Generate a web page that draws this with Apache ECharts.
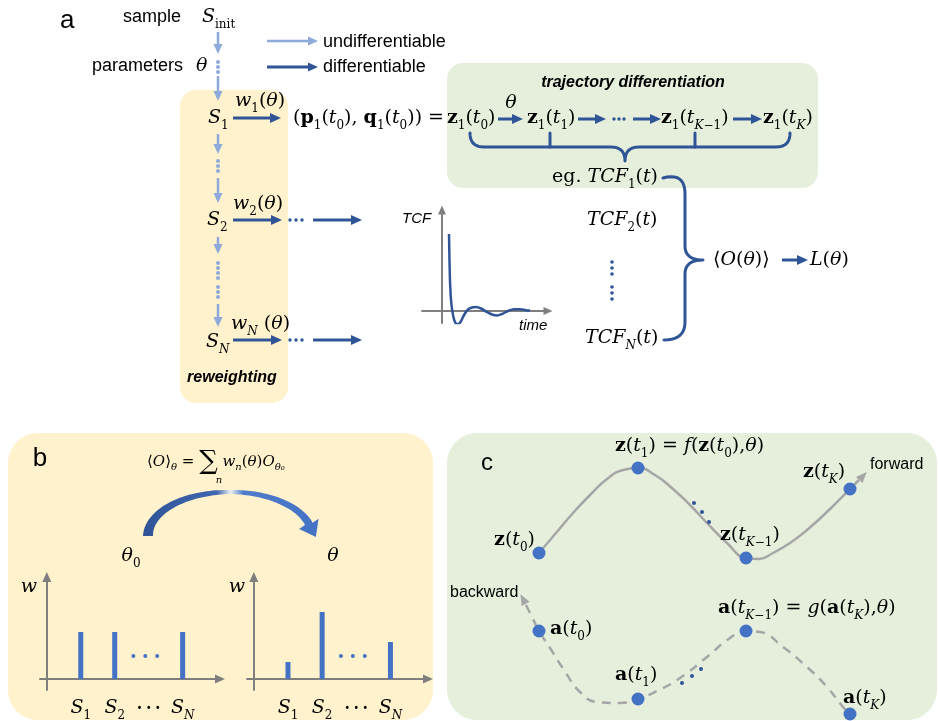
<!DOCTYPE html>
<html><head><meta charset="utf-8">
<script src="https://cdn.jsdelivr.net/npm/echarts@6/dist/echarts.min.js"></script>
<style>html,body{margin:0;padding:0;background:#fff}#c{width:938px;height:721px}</style>
</head><body><div id="c"></div>
<script>
// ---------------- data ----------------
// panel b: reweighting bars (x position of sample, weight)
const sampleLabels = ['S1', 'S2', '···', 'SN'];
const samplePos = [1, 2, 4];
const weightsTheta0 = [47, 47, 47];
const weightsTheta = [17, 67, 37];
const ellipsisX = [2.55, 2.9, 3.25];
const ellipsisY = 23;
// panel a: time correlation function sketch
const tcfTime  = [7, 7.5, 8.2, 9.3, 11, 13, 15.5, 18.5, 22, 26, 30, 34, 39, 45, 50, 55, 60, 66, 72, 78, 84, 88];
const tcfValue = [77, 50, 25, 8, -4, -11, -13.5, -11, -4, 1.5, 3.5, 4, 2.5, -1, -3.5, -4.5, -3, 0, 1.8, 1.8, 0.8, 0.5];
// panel c: forward trajectory z(t) and adjoint a(t)
const zPathX = [92, 109, 126, 143, 160, 176, 191, 208, 226, 243, 260, 280, 299, 312, 326, 343, 360, 382, 403, 412];
const zPathY = [120, 100, 80, 62, 46, 37, 35, 42, 56, 72, 90, 110, 125, 126, 120, 110, 97, 77, 56, 47];
const zStateX = [92, 191, 299, 403];
const zStateY = [120, 35, 125, 56];
const zDotsX = [247, 255, 262];
const zDotsY = [70, 79, 89];
const aPathX = [79, 86, 92, 103, 117, 133, 150, 173, 191, 210, 233, 260, 283, 299, 313, 336, 360, 380, 396, 401];
const aPathY = [172, 186, 198, 215, 237, 259, 269, 270, 266, 258, 245, 224, 205, 198, 199, 214, 234, 254, 274, 279];
const aStateX = [92, 191, 299, 403];
const aStateY = [198, 266, 198, 281];
const aDotsX = [235, 245, 254];
const aDotsY = [250, 243, 236];

// ---------------- styles ----------------
const SANS = '"Liberation Sans", Arial, sans-serif';
const SERIF = '"DejaVu Serif", "Liberation Serif", serif';
const DARK = '#2f5597', LIGHT = '#8eaadb', BLUE = '#4472c4', GRAY = '#7f7f7f', CURVE = '#a6a6a6';

function mkRich(sz, sub) {
  const lh = Math.round(sz * 1.4), slh = Math.round(sub * 1.3);
  return {
    i: {fontFamily: SERIF, fontStyle: 'italic', fontSize: sz, lineHeight: lh, color: '#000'},
    r: {fontFamily: SERIF, fontSize: sz, lineHeight: lh, color: '#000'},
    b: {fontFamily: SERIF, fontWeight: 'bold', fontSize: sz, lineHeight: lh, color: '#000'},
    s: {fontFamily: SERIF, fontStyle: 'italic', fontSize: sub, lineHeight: slh, verticalAlign: 'bottom', color: '#000'},
    sr: {fontFamily: SERIF, fontSize: sub, lineHeight: slh, verticalAlign: 'bottom', color: '#000'},
    big: {fontFamily: SERIF, fontSize: Math.round(sz * 1.7), lineHeight: lh, color: '#000'},
    dt: {fontFamily: SANS, fontSize: 10, fontWeight: 'bold', lineHeight: lh, color: '#000'}
  };
}
const R = mkRich(19, 12);
const RF = mkRich(15, 10);

const G = [];
function T(x, y, text, o) {
  o = o || {};
  G.push({type: 'text', z: 100, style: {x: x, y: y, text: text, rich: o.rich || R,
    align: o.align || 'left', verticalAlign: 'middle', fill: o.fill || '#000',
    font: o.font || ('19px ' + SERIF)}});
}
function arrow(x1, y1, x2, y2, color, lw, hl, hw) {
  lw = lw || 2.5; hl = hl || 10; hw = hw || 9;
  const dx = x2 - x1, dy = y2 - y1, L = Math.hypot(dx, dy), ux = dx / L, uy = dy / L;
  const bx = x2 - ux * hl, by = y2 - uy * hl;
  G.push({type: 'line', z: 90, shape: {x1: x1, y1: y1, x2: bx + ux, y2: by + uy}, style: {stroke: color, lineWidth: lw}});
  G.push({type: 'polygon', z: 90, shape: {points: [[x2, y2], [bx - uy * hw / 2, by + ux * hw / 2], [bx + uy * hw / 2, by - ux * hw / 2]]}, style: {fill: color}});
}
function dot(x, y, r, color) { G.push({type: 'circle', z: 90, shape: {cx: x, cy: y, r: r}, style: {fill: color}}); }
function quad(pts, p0, c, p2) {
  for (let k = 0; k <= 10; k++) { const t = k / 10, m = 1 - t;
    pts.push([m * m * p0[0] + 2 * m * t * c[0] + t * t * p2[0], m * m * p0[1] + 2 * m * t * c[1] + t * t * p2[1]]); }
}
function poly(pts, color, lw) { G.push({type: 'polyline', z: 90, shape: {points: pts}, style: {stroke: color, lineWidth: lw, fill: null, lineJoin: 'round', lineCap: 'round'}}); }

// ---------------- backgrounds ----------------
G.push({type: 'rect', z: 0, shape: {x: 180, y: 90, width: 108, height: 313, r: 16}, style: {fill: '#fff2cc'}});
G.push({type: 'rect', z: 0, shape: {x: 447, y: 63, width: 371, height: 125, r: 16}, style: {fill: '#e5efdc'}});
G.push({type: 'rect', z: 0, shape: {x: 8, y: 433, width: 425, height: 287, r: 30}, style: {fill: '#fff2cc'}});
G.push({type: 'rect', z: 0, shape: {x: 447, y: 433, width: 490, height: 287, r: 30}, style: {fill: '#e5efdc'}});

// ---------------- panel a ----------------
T(60, 21, 'a', {font: '26px ' + SANS});
T(123, 17, 'sample', {font: '18px ' + SANS});
T(202, 17, '{i|S}{sr|init}');
T(92, 66, 'parameters', {font: '18px ' + SANS});
T(196, 66, '{i|θ}');
arrow(267, 41, 318, 41, LIGHT); T(323, 42, 'undifferentiable', {font: '18px ' + SANS});
arrow(267, 67, 318, 67, DARK, 3); T(323, 67, 'differentiable', {font: '18px ' + SANS});

// light column
arrow(218, 32, 218, 54, LIGHT);
[62, 67, 72].forEach(y => dot(218, y, 2, LIGHT));
arrow(218, 76, 218, 101, LIGHT);
arrow(218, 134, 218, 154, LIGHT);
[161, 166, 171].forEach(y => dot(218, y, 2, LIGHT));
arrow(218, 178, 218, 203, LIGHT);
arrow(218, 237, 218, 254, LIGHT);
[263, 268, 273, 278].forEach(y => dot(218, y, 2, LIGHT));
[287, 292, 297].forEach(y => dot(218, y, 2, LIGHT));
arrow(218, 304, 218, 327, LIGHT);

T(208, 118, '{i|S}{sr|1}');
T(235, 101, '{i|w}{sr|1}{r|(}{i|θ}{r|)}');
arrow(233, 118, 281, 118, DARK, 3, 11, 10);
T(444, 118, '{r|(}{b|p}{sr|1}{r|(}{i|t}{sr|0}{r|), }{b|q}{sr|1}{r|(}{i|t}{sr|0}{r|)) =}', {align: 'right'});

T(207, 220, '{i|S}{sr|2}');
T(233, 204, '{i|w}{sr|2}{r|(}{i|θ}{r|)}');
arrow(233, 220, 282, 220, DARK, 3, 11, 10);
[290, 296, 302].forEach(x => dot(x, 220, 1.7, DARK));
arrow(313, 220, 362, 220, DARK, 3, 11, 10);

T(206, 342, '{i|S}{s|N}');
T(231, 324, '{i|w}{s|N}{r| (}{i|θ}{r|)}');
arrow(233, 340, 282, 340, DARK, 3, 11, 10);
[290, 296, 302].forEach(x => dot(x, 340, 1.7, DARK));
arrow(313, 340, 362, 340, DARK, 3, 11, 10);
T(232, 378, 'reweighting', {align: 'center', font: 'italic bold 16px ' + SANS});

// trajectory chain
T(633, 83, 'trajectory differentiation', {align: 'center', font: 'italic bold 16px ' + SANS});
T(447, 118, '{b|z}{sr|1}{r|(}{i|t}{sr|0}{r|)}');
T(511, 103, '{i|θ}', {align: 'center'});
arrow(498, 119, 523, 119, DARK, 3, 11, 10);
T(527, 118, '{b|z}{sr|1}{r|(}{i|t}{sr|1}{r|)}');
arrow(578, 119, 606, 119, DARK, 3, 11, 10);
[614, 619, 624].forEach(x => dot(x, 119, 1.7, DARK));
arrow(633, 119, 661, 119, DARK, 3, 11, 10);
T(661, 118, '{b|z}{sr|1}{r|(}{i|t}{s|K}{sr|−1}{r|)}');
arrow(733, 119, 762, 119, DARK, 3, 11, 10);
T(763, 118, '{b|z}{sr|1}{r|(}{i|t}{s|K}{r|)}');

// horizontal brace
(function () {
  const p = [];
  quad(p, [470, 133], [470, 147], [484, 147]);
  quad(p, [611, 147], [625, 147], [625, 161]);
  quad(p, [625, 161], [625, 147], [639, 147]);
  quad(p, [776, 147], [790, 147], [790, 133]);
  poly(p, DARK, 3);
  poly([[550, 133], [550, 147]], DARK, 3);
  poly([[695, 133], [695, 147]], DARK, 3);
})();
T(552, 177, '{r|eg. }{i|TCF}{sr|1}{r|(}{i|t}{r|)}');
T(587, 220, '{i|TCF}{sr|2}{r|(}{i|t}{r|)}');
T(585, 338, '{i|TCF}{s|N}{r|(}{i|t}{r|)}');
[262, 268, 274, 287, 293, 299].forEach(y => dot(612, y, 1.8, DARK));
// vertical brace
(function () {
  const p = [];
  quad(p, [663, 178], [685, 172], [685, 194]);
  quad(p, [685, 246], [685, 260], [703, 260]);
  quad(p, [703, 260], [685, 260], [685, 274]);
  quad(p, [685, 322], [685, 340], [664, 340]);
  poly(p, DARK, 3);
})();
T(713, 260, '{r|⟨}{i|O}{r|(}{i|θ}{r|)⟩}');
arrow(782, 260, 808, 260, DARK, 3, 11, 10);
T(810, 260, '{i|L}{r|(}{i|θ}{r|)}');

T(402, 219, 'TCF', {font: 'italic 15px ' + SANS});
T(519, 326, 'time', {font: 'italic 15px ' + SANS});

// ---------------- panel b ----------------
T(40, 459, 'b', {align: 'center', font: '26px ' + SANS});
T(147, 462, '{r|⟨}{i|O}{r|⟩}{s|θ}{r| = }{big|∑}{i| w}{s|n}{r|(}{i|θ}{r|)}{i|O}{s|θ₀}', {rich: RF});
T(219, 480, 'n', {align: 'center', font: 'italic 10px ' + SERIF});
T(131, 556, '{i|θ}{sr|0}', {align: 'center'});
T(333, 556, '{i|θ}', {align: 'center'});
T(29, 587, '{i|w}', {align: 'center'});
T(237, 587, '{i|w}', {align: 'center'});
// curved reweighting arrow
(function () {
  const cx = 230, cy = 536, rx = 82, ry = 44, aEnd = 16;
  const th = a => a >= 90 ? 4 + (a - 90) / 90 * 6 : 4 + (90 - a) / (90 - aEnd) * 4;
  const outer = [], inner = [];
  for (let a = 180; a >= aEnd; a -= 2) {
    const r = a * Math.PI / 180, h = th(a) / 2;
    outer.push([cx + (rx + h) * Math.cos(r), cy - (ry + h) * Math.sin(r)]);
    inner.push([cx + (rx - h) * Math.cos(r), cy - (ry - h) * Math.sin(r)]);
  }
  const r = aEnd * Math.PI / 180;
  const mx = cx + rx * Math.cos(r), my = cy - ry * Math.sin(r);
  let dx = rx * Math.sin(r), dy = ry * Math.cos(r); const L = Math.hypot(dx, dy); dx /= L; dy /= L;
  const px = dy, py = -dx;
  const pts = outer.concat([[mx + px * 11, my + py * 11], [mx + dx * 15, my + dy * 15], [mx - px * 11, my - py * 11]], inner.reverse());
  G.push({type: 'polygon', z: 50, shape: {points: pts}, style: {
    fill: new echarts.graphic.LinearGradient(0, 0, 1, 0, [
      {offset: 0, color: '#2f5597'}, {offset: 0.42, color: '#3f66b0'}, {offset: 0.5, color: '#eef0ee'},
      {offset: 0.57, color: '#4f7dcb'}, {offset: 1, color: '#4472c4'}])}});
})();

// ---------------- panel c ----------------
T(487, 463, 'c', {align: 'center', font: '24px ' + SANS});
T(535, 540, '{b|z}{r|(}{i|t}{sr|0}{r|)}', {align: 'right'});
T(615, 446, '{b|z}{r|(}{i|t}{sr|1}{r|) = }{i|f}{r|(}{b|z}{r|(}{i|t}{sr|0}{r|),}{i|θ}{r|)}');
T(720, 535, '{b|z}{r|(}{i|t}{s|K}{sr|−1}{r|)}');
T(803, 472, '{b|z}{r|(}{i|t}{s|K}{r|)}');
T(870, 465, 'forward', {font: '16px ' + SANS});
T(450, 593, 'backward', {font: '16px ' + SANS});
T(550, 629, '{b|a}{r|(}{i|t}{sr|0}{r|)}');
T(615, 675, '{b|a}{r|(}{i|t}{sr|1}{r|)}');
T(718, 608, '{b|a}{r|(}{i|t}{s|K}{sr|−1}{r|) = }{i|g}{r|(}{b|a}{r|(}{i|t}{s|K}{r|),}{i|θ}{r|)}');
T(843, 698, '{b|a}{r|(}{i|t}{s|K}{r|)}');

// ---------------- chart option ----------------
const zip = (xs, ys) => xs.map((x, i) => [x, ys[i]]);
const labelMap = {1: '{i|S}{sr|1}', 2: '{i|S}{sr|2}', 3: '{dt|•  •  •}', 4: '{i|S}{s|N}'};
function barAxes(gi) {
  return {
    x: {type: 'value', gridIndex: gi, min: -0.2, max: 5.1, splitLine: {show: false},
      axisLine: {onZero: true, symbol: ['none', 'triangle'], symbolSize: [9, 10], lineStyle: {color: GRAY, width: 2}},
      axisTick: {show: false},
      axisLabel: {customValues: [1, 2, 3, 4], margin: 5, rich: R, formatter: v => labelMap[v] || ''}},
    y: {type: 'value', gridIndex: gi, min: -11, max: 102, splitLine: {show: false},
      axisLine: {onZero: true, symbol: ['none', 'triangle'], symbolSize: [9, 10], lineStyle: {color: GRAY, width: 2}},
      axisTick: {show: false}, axisLabel: {show: false}}
  };
}
const b0 = barAxes(0), b1 = barAxes(1);
const option = {
  backgroundColor: '#ffffff',
  animation: false,
  graphic: {elements: G},
  grid: [
    {left: 40, top: 577, width: 180, height: 113, outerBoundsMode: 'none', containLabel: false},
    {left: 247, top: 577, width: 181, height: 113, outerBoundsMode: 'none', containLabel: false},
    {left: 422, top: 210, width: 126, height: 113, outerBoundsMode: 'none', containLabel: false},
    {left: 447, top: 433, width: 490, height: 288, outerBoundsMode: 'none', containLabel: false}
  ],
  xAxis: [b0.x, b1.x,
    {type: 'value', gridIndex: 2, min: -20, max: 106, splitLine: {show: false},
      axisLine: {onZero: true, symbol: ['none', 'triangle'], symbolSize: [8, 9], lineStyle: {color: GRAY, width: 2}},
      axisTick: {show: false}, axisLabel: {show: false}},
    {type: 'value', gridIndex: 3, min: 0, max: 490, show: false}],
  yAxis: [b0.y, b1.y,
    {type: 'value', gridIndex: 2, min: -12, max: 101, splitLine: {show: false},
      axisLine: {onZero: true, symbol: ['none', 'triangle'], symbolSize: [8, 9], lineStyle: {color: GRAY, width: 2}},
      axisTick: {show: false}, axisLabel: {show: false}},
    {type: 'value', gridIndex: 3, min: 0, max: 288, inverse: true, show: false}],
  series: [
    {name: 'w at θ0', type: 'bar', xAxisIndex: 0, yAxisIndex: 0, barWidth: 5, itemStyle: {color: BLUE},
      data: samplePos.map((p, i) => [p, weightsTheta0[i]])},
    {type: 'scatter', xAxisIndex: 0, yAxisIndex: 0, symbolSize: 4, itemStyle: {color: BLUE, opacity: 1},
      data: ellipsisX.map(x => [x, ellipsisY])},
    {name: 'w at θ', type: 'bar', xAxisIndex: 1, yAxisIndex: 1, barWidth: 5, itemStyle: {color: BLUE},
      data: samplePos.map((p, i) => [p, weightsTheta[i]])},
    {type: 'scatter', xAxisIndex: 1, yAxisIndex: 1, symbolSize: 4, itemStyle: {color: BLUE, opacity: 1},
      data: ellipsisX.map(x => [x, ellipsisY])},
    {name: 'TCF', type: 'line', xAxisIndex: 2, yAxisIndex: 2, smooth: 0.3, symbol: 'none',
      lineStyle: {color: DARK, width: 2.5}, data: zip(tcfTime, tcfValue)},
    {name: 'forward', type: 'line', xAxisIndex: 3, yAxisIndex: 3, smooth: 0.5, symbol: 'none', z: 3,
      lineStyle: {color: CURVE, width: 2.5}, data: zip(zPathX, zPathY)},
    {type: 'scatter', xAxisIndex: 3, yAxisIndex: 3, symbol: 'triangle', symbolSize: [9, 11], symbolRotate: -43, z: 4,
      itemStyle: {color: CURVE, opacity: 1}, data: [[416, 43]]},
    {name: 'backward', type: 'line', xAxisIndex: 3, yAxisIndex: 3, smooth: 0.5, symbol: 'none', z: 3,
      lineStyle: {color: CURVE, width: 2.5, type: [9, 7]}, data: zip(aPathX, aPathY)},
    {type: 'scatter', xAxisIndex: 3, yAxisIndex: 3, symbol: 'triangle', symbolSize: [9, 11], symbolRotate: 28, z: 4,
      itemStyle: {color: CURVE, opacity: 1}, data: [[76, 166]]},
    {type: 'scatter', xAxisIndex: 3, yAxisIndex: 3, symbolSize: 13, z: 6, itemStyle: {color: BLUE, opacity: 1},
      data: zip(zStateX, zStateY).concat(zip(aStateX, aStateY))},
    {type: 'scatter', xAxisIndex: 3, yAxisIndex: 3, symbolSize: 4, z: 6, itemStyle: {color: DARK, opacity: 1},
      data: zip(zDotsX, zDotsY).concat(zip(aDotsX, aDotsY))}
  ]
};
const chart = echarts.init(document.getElementById('c'), null, {renderer: 'canvas'});
chart.setOption(option);
</script>
</body></html>
